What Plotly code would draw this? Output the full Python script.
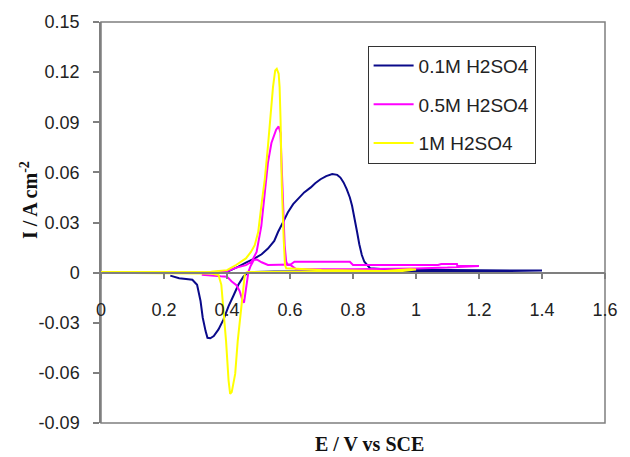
import plotly.graph_objects as go

# Cyclic voltammograms in sulfuric acid of three concentrations
series_names = ["0.1M H2SO4", "0.5M H2SO4", "1M H2SO4"]
series_colors = ["#0a0a8a", "#ff00ff", "#ffff00"]

# 0.1M: anodic sweep 0.40 -> 1.40 V, then cathodic sweep back to 0.22 V
e_01 = [0.40, 0.42, 0.436, 0.46, 0.488, 0.51, 0.53, 0.55, 0.562, 0.58, 0.593, 0.61,
        0.624, 0.645, 0.666, 0.68, 0.697, 0.715, 0.734, 0.75, 0.76, 0.77, 0.78, 0.79,
        0.797, 0.805, 0.813, 0.82, 0.828, 0.836, 0.844, 0.854, 0.90, 1.00, 1.10, 1.20,
        1.30, 1.40,
        1.30, 1.10, 0.90, 0.70, 0.55, 0.48, 0.467, 0.452, 0.436, 0.42, 0.405, 0.389,
        0.373, 0.358, 0.347, 0.338, 0.332, 0.323, 0.316, 0.305, 0.29, 0.27, 0.248, 0.22]
i_01 = [0.0005, 0.002, 0.0036, 0.006, 0.0085, 0.011, 0.0144, 0.019, 0.0243, 0.031, 0.036, 0.041,
        0.044, 0.048, 0.051, 0.0535, 0.0559, 0.0578, 0.0590, 0.0585, 0.0569, 0.054, 0.050, 0.045,
        0.040, 0.033, 0.0243, 0.017, 0.0105, 0.0065, 0.0046, 0.0026, 0.0020, 0.0020, 0.0016, 0.0014,
        0.0013, 0.0012,
        0.0010, 0.0010, 0.0010, 0.0008, 0.0006, 0.0004, 0.0002, -0.0024, -0.0073, -0.014, -0.020, -0.028,
        -0.034, -0.038, -0.0393, -0.039, -0.035, -0.027, -0.017, -0.0073, -0.0043, -0.0038, -0.0034, -0.0018]

# 0.5M: anodic sweep 0.32 -> 1.20 V, then cathodic sweep back to 0.32 V
e_05 = [0.32, 0.36, 0.40, 0.43, 0.46, 0.478, 0.494, 0.509, 0.52, 0.53, 0.541, 0.556,
        0.564, 0.57, 0.572, 0.577, 0.583, 0.588, 0.593, 0.60, 0.614, 0.70, 0.79, 0.80,
        0.90, 1.00, 1.07, 1.08, 1.13, 1.131, 1.20,
        1.10, 1.00, 0.80, 0.62, 0.60, 0.53, 0.51, 0.494, 0.485, 0.475, 0.468, 0.462,
        0.457, 0.454, 0.45, 0.44, 0.43, 0.415, 0.40, 0.38, 0.35, 0.32]
i_05 = [0.0000, 0.0002, 0.0008, 0.003, 0.0045, 0.0065, 0.0124, 0.028, 0.048, 0.0658, 0.0776, 0.0855,
        0.0875, 0.0836, 0.0717, 0.042, 0.0164, 0.0065, 0.0046, 0.0046, 0.0065, 0.0065, 0.0065, 0.0046,
        0.0046, 0.0046, 0.0046, 0.0052, 0.0052, 0.0040, 0.0040,
        0.0030, 0.0025, 0.0020, 0.0020, 0.0048, 0.0046, 0.0062, 0.0079, 0.0075, 0.0040, 0.0005, -0.006,
        -0.014, -0.018, -0.017, -0.011, -0.0075, -0.0053, -0.0024, -0.0022, -0.0015, -0.0012]

# 1M: anodic sweep 0 -> 1.00 V, then cathodic sweep back to 0 V
e_1 = [0.00, 0.20, 0.35, 0.40, 0.43, 0.46, 0.476, 0.488, 0.499, 0.509, 0.520, 0.530,
       0.535, 0.546, 0.553, 0.558, 0.564, 0.567, 0.570, 0.574, 0.580, 0.584, 0.588, 0.65,
       0.70, 0.80, 0.90, 0.98, 1.00,
       0.95, 0.80, 0.60, 0.50, 0.465, 0.457, 0.452, 0.441, 0.434, 0.426, 0.415, 0.41,
       0.405, 0.397, 0.389, 0.382, 0.373, 0.35, 0.20, 0.00]
i_1 = [0.0003, 0.0003, 0.0005, 0.0015, 0.0047, 0.0085, 0.0124, 0.0164, 0.0243, 0.040, 0.056, 0.0757,
       0.0875, 0.111, 0.121, 0.122, 0.119, 0.111, 0.0915, 0.052, 0.020, 0.0046, 0.0026, 0.0018,
       0.0016, 0.0012, 0.0010, 0.0020, 0.0018,
       0.0008, 0.0006, 0.0005, 0.0005, 0.0003, -0.0003, -0.0093, -0.025, -0.041, -0.0606, -0.0715, -0.0725,
       -0.0646, -0.041, -0.021, -0.0073, -0.0014, -0.0005, -0.0003, 0.0]

x_tick_vals = [0, 0.2, 0.4, 0.6, 0.8, 1.0, 1.2, 1.4, 1.6]
x_tick_text = ["0", "0.2", "0.4", "0.6", "0.8", "1", "1.2", "1.4", "1.6"]
y_tick_vals = [0.15, 0.12, 0.09, 0.06, 0.03, 0, -0.03, -0.06, -0.09]
y_tick_text = ["0.15", "0.12", "0.09", "0.06", "0.03", "0", "-0.03", "-0.06", "-0.09"]

x_title = "E / V vs SCE"
y_title = "I / A cm<sup>-2</sup>"

axis_grey = "#7f7f7f"
tick_font = dict(family="Liberation Sans, Arial", size=18, color="#222222")
x_title_font = dict(family="Liberation Serif, Times New Roman", size=20, color="#111111")
y_title_font = dict(family="Liberation Serif, Times New Roman", size=20, color="#111111")

fig = go.Figure()
for name, color, xs, ys in zip(series_names, series_colors,
                               [e_01, e_05, e_1], [i_01, i_05, i_1]):
    fig.add_trace(go.Scatter(
        x=xs, y=ys, mode="lines", name=name, legendgroup=name,
        line=dict(color=color, width=2),
    ))

fig.update_layout(
    width=630, height=457,
    margin=dict(l=101, r=19, t=18, b=34),
    paper_bgcolor="white", plot_bgcolor="white",
    showlegend=True,
    legend=dict(
        x=0.529, y=0.941, xanchor="left", yanchor="top",
        font=dict(family="Liberation Sans, Arial", size=19, color="#222222"),
        bordercolor="#333333", borderwidth=1, bgcolor="white",
        tracegroupgap=11, itemwidth=40,
    ),
    xaxis=dict(
        range=[0, 1.6], tickvals=x_tick_vals, ticktext=x_tick_text,
        anchor="free", position=0.375,
        showline=True, linecolor=axis_grey, linewidth=1.5,
        ticks="outside", ticklen=6, tickcolor=axis_grey, tickwidth=1.5,
        ticklabelstandoff=15, tickfont=tick_font,
        showgrid=False, zeroline=False,
    ),
    yaxis=dict(
        range=[-0.09, 0.15], tickvals=y_tick_vals, ticktext=y_tick_text,
        showline=True, linecolor=axis_grey, linewidth=1.5,
        ticks="outside", ticklen=6, tickcolor=axis_grey, tickwidth=1.5,
        ticklabelstandoff=10, tickfont=tick_font,
        showgrid=False, zeroline=False,
    ),
    shapes=[dict(type="rect", xref="paper", yref="paper", x0=0, y0=0, x1=1, y1=1,
                 line=dict(color=axis_grey, width=1.5), layer="below")],
    annotations=[
        dict(text="<b>" + x_title + "</b>", xref="paper", yref="paper",
             x=0.533, y=-0.052, xanchor="center", yanchor="middle",
             showarrow=False, font=x_title_font),
        dict(text="<b>" + y_title + "</b>", xref="paper", yref="paper",
             x=-0.143, y=0.556, xanchor="center", yanchor="middle",
             textangle=-90, showarrow=False, font=y_title_font),
    ],
)

fig.write_html("out.html")
